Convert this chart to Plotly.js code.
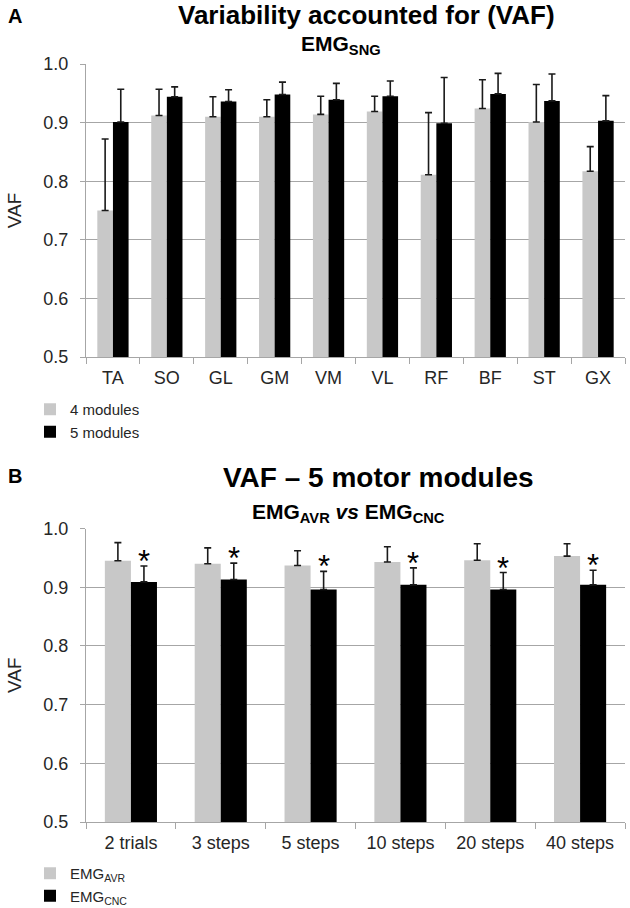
<!DOCTYPE html>
<html>
<head>
<meta charset="utf-8">
<script src="https://cdn.plot.ly/plotly-3.0.1.min.js"></script>
<style>html,body{margin:0;padding:0;background:#fff;}#chart{width:630px;height:908px;}</style>
</head>
<body>
<div id="chart"></div>
<script>
// Panel A data
const muscles = ['TA','SO','GL','GM','VM','VL','RF','BF','ST','GX'];
const vaf4 = [0.750,0.912,0.910,0.910,0.914,0.919,0.811,0.924,0.901,0.817];
const sd4  = [0.122,0.045,0.034,0.029,0.031,0.026,0.106,0.049,0.064,0.042];
const vaf5 = [0.901,0.944,0.936,0.948,0.939,0.945,0.899,0.949,0.937,0.903];
const sd5  = [0.056,0.017,0.020,0.021,0.028,0.026,0.078,0.035,0.046,0.043];

// Panel B data
const conditions = ['2 trials','3 steps','5 steps','10 steps','20 steps','40 steps'];
const vafAvr = [0.945,0.940,0.937,0.943,0.946,0.953];
const sdAvr  = [0.031,0.027,0.025,0.026,0.028,0.021];
const vafCnc = [0.909,0.913,0.896,0.904,0.896,0.904];
const sdCnc  = [0.027,0.028,0.031,0.029,0.029,0.025];
const significant = [true,true,true,true,true,true];

const FONT = 'Liberation Sans, Arial, sans-serif';
const GRAY = '#c8c8c8';
const GRID = '#a6a6a6';
const TXT = '#262626';

function errBar(arr){
  return {type:'data', symmetric:false, array:arr, arrayminus:arr.map(()=>0),
          color:'#1a1a1a', thickness:1.6, width:3.5};
}

const traces = [
  {type:'bar', name:'4 modules', x:muscles, y:vaf4, error_y:errBar(sd4),
   marker:{color:GRAY, line:{width:0}}, xaxis:'x', yaxis:'y', legend:'legend'},
  {type:'bar', name:'5 modules', x:muscles, y:vaf5, error_y:errBar(sd5),
   marker:{color:'#000', line:{width:0}}, xaxis:'x', yaxis:'y', legend:'legend'},
  {type:'bar', name:'EMG<sub>AVR</sub>', x:conditions, y:vafAvr, error_y:errBar(sdAvr),
   marker:{color:GRAY, line:{width:0}}, xaxis:'x2', yaxis:'y2', legend:'legend2'},
  {type:'bar', name:'EMG<sub>CNC</sub>', x:conditions, y:vafCnc, error_y:errBar(sdCnc),
   marker:{color:'#000', line:{width:0}}, xaxis:'x2', yaxis:'y2', legend:'legend2'}
];

// plot area: x 86..625, y 64..822 (px)
const T = 64, B = 822, H = B - T;
const py = v => (B - v) / H;   // pixel y -> paper y
const px = v => (v - 86) / 539; // pixel x -> paper x

function yax(domain){
  return {domain:domain, range:[0.5,1.0], dtick:0.1, tick0:0.5, tickformat:'.1f',
    showgrid:true, gridcolor:GRID, gridwidth:1, zeroline:false,
    showline:true, linecolor:GRID, linewidth:1,
    ticks:'outside', ticklen:5, tickcolor:GRID, ticklabelstandoff:8,
    tickfont:{family:FONT, size:18, color:TXT},
    title:{text:'VAF', font:{family:FONT, size:19, color:TXT}, standoff:16},
    automargin:false, fixedrange:true};
}
function xax(anchor){
  return {anchor:anchor, type:'category', showgrid:false, zeroline:false,
    showline:true, linecolor:GRID, linewidth:1,
    ticks:'outside', tickson:'boundaries', ticklen:6, tickcolor:GRID,
    ticklabelstandoff:4, automargin:false,
    tickfont:{family:FONT, size:18, color:TXT}, fixedrange:true};
}

const annotations = [
  {text:'<b>A</b>', xref:'paper', yref:'paper', x:px(15), y:py(16), xanchor:'center', yanchor:'middle',
   showarrow:false, font:{family:FONT, size:20, color:'#000'}},
  {text:'<b>Variability accounted for (VAF)</b>', xref:'paper', yref:'paper', x:px(366), y:py(15),
   xanchor:'center', yanchor:'middle', showarrow:false, font:{family:FONT, size:26, color:'#000'}},
  {text:'<b>EMG<sub>SNG</sub></b>', xref:'paper', yref:'paper', x:px(341), y:py(45),
   xanchor:'center', yanchor:'middle', showarrow:false, font:{family:FONT, size:21, color:'#000'}},
  {text:'<b>B</b>', xref:'paper', yref:'paper', x:px(15), y:py(476), xanchor:'center', yanchor:'middle',
   showarrow:false, font:{family:FONT, size:20, color:'#000'}},
  {text:'<b>VAF – 5 motor modules</b>', xref:'paper', yref:'paper', x:px(378), y:py(477),
   xanchor:'center', yanchor:'middle', showarrow:false, font:{family:FONT, size:28, color:'#000'}},
  {text:'<b>EMG<sub>AVR</sub> <i>vs</i> EMG<sub>CNC</sub></b>', xref:'paper', yref:'paper', x:px(348), y:py(513),
   xanchor:'center', yanchor:'middle', showarrow:false, font:{family:FONT, size:21, color:'#000'}}
];
conditions.forEach((c,i)=>{
  if(significant[i]) annotations.push({text:'*', xref:'x2', yref:'y2', x:c, y:vafCnc[i]+sdCnc[i],
    xanchor:'center', yanchor:'bottom', xshift:13, yshift:-15, showarrow:false,
    font:{family:FONT, size:31, color:'#000'}});
});

const layout = {
  width:630, height:908,
  margin:{l:86, r:5, t:T, b:908-B, pad:0, autoexpand:false},
  paper_bgcolor:'#fff', plot_bgcolor:'#fff',
  font:{family:FONT, color:TXT},
  barmode:'group', bargap:0.42, bargroupgap:0,
  showlegend:true,
  xaxis:xax('y'),
  yaxis:yax([py(357),1]),
  xaxis2:xax('y2'),
  yaxis2:yax([0,py(528.5)]),
  legend:{x:px(30), y:py(393), xanchor:'left', yanchor:'top', bgcolor:'rgba(0,0,0,0)',
    font:{family:FONT, size:15, color:TXT}, itemclick:false, tracegroupgap:0},
  legend2:{x:px(30), y:py(857), xanchor:'left', yanchor:'top', bgcolor:'rgba(0,0,0,0)',
    font:{family:FONT, size:15, color:TXT}, itemclick:false, tracegroupgap:0},
  annotations:annotations
};

Plotly.newPlot('chart', traces, layout, {displayModeBar:false, staticPlot:true});
</script>
</body>
</html>
